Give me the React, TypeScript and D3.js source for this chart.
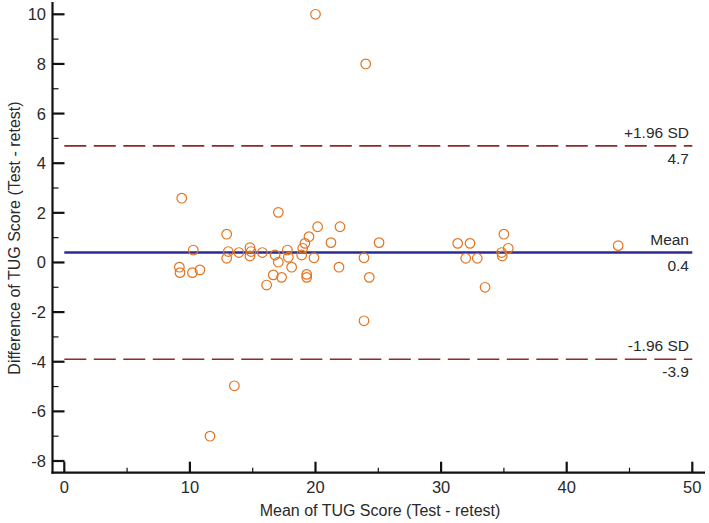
import React from "react";
import * as d3 from "d3";

// Mean of TUG score (x) and difference test - retest (y)
const meanScores: number[] = [
  20.0, 24.0, 9.35, 10.27, 9.16, 9.21, 10.2, 10.8, 12.93, 13.06, 12.93, 13.9,
  14.78, 14.87, 14.78, 15.77, 16.78, 17.04, 17.76, 17.84, 18.1, 16.64, 17.3,
  16.11, 18.9, 18.98, 19.16, 19.48, 20.17, 19.88, 19.3, 19.3, 21.23, 21.95,
  21.87, 23.86, 24.28, 23.86, 25.06, 17.04, 31.32, 32.3, 31.96, 32.88, 33.5,
  35.0, 35.35, 34.82, 34.87, 44.1, 13.54, 11.6,
];
const differences: number[] = [
  10.0, 8.0, 2.59, 0.5, -0.19, -0.41, -0.41, -0.3, 1.14, 0.44, 0.17, 0.4,
  0.6, 0.44, 0.26, 0.4, 0.3, 0.01, 0.5, 0.21, -0.19, -0.5, -0.6,
  -0.91, 0.3, 0.57, 0.77, 1.04, 1.44, 0.19, -0.48, -0.6, 0.8, 1.44,
  -0.19, 0.19, -0.6, -2.35, 0.8, 2.02, 0.77, 0.77, 0.17, 0.17, -1.0,
  1.14, 0.57, 0.4, 0.26, 0.68, -4.97, -7.0,
];

const refValues: number[] = [4.7, 0.4, -3.9];
const refTopLabels: string[] = ["+1.96 SD", "Mean", "-1.96 SD"];
const refBottomLabels: string[] = ["4.7", "0.4", "-3.9"];
const refKinds: string[] = ["sd", "mean", "sd"];

const xTicks: number[] = [0, 10, 20, 30, 40, 50];
const xMinorTicks: number[] = [5, 15, 25, 35, 45];
const yTicks: number[] = [-8, -6, -4, -2, 0, 2, 4, 6, 8, 10];
const yMinorTicks: number[] = [-7, -5, -3, -1, 1, 3, 5, 7, 9];

const xTitle = "Mean of TUG Score (Test - retest)";
const yTitle = "Difference of TUG Score (Test - retest)";

export default function App() {
  const W = 709;
  const H = 523;
  const x = d3.scaleLinear().domain([0, 50]).range([64.3, 692.3]);
  const y = d3.scaleLinear().domain([-8, 10]).range([461, 14.3]);
  const axisX = 52.5;
  const axisY = 472.7;
  const font = "'Liberation Sans', Arial, sans-serif";
  const ptColor = "#e2741f";
  const sdColor = "#8e2a2a";
  const meanColor = "#2b2b95";
  const txt = "#2a2a2a";

  return (
    <svg
      width={W}
      height={H}
      style={{ position: "absolute", left: 0, top: 0, background: "#fff" }}
      fontFamily={font}
    >
      <rect x={0} y={0} width={W} height={H} fill="#fff" />
      {/* reference lines */}
      {refValues.map((v, i) => (
        <g key={"ref" + i}>
          <line
            x1={x(0)}
            x2={x(50)}
            y1={y(v)}
            y2={y(v)}
            stroke={refKinds[i] === "mean" ? meanColor : sdColor}
            strokeWidth={refKinds[i] === "mean" ? 2.6 : 1.6}
            strokeDasharray={refKinds[i] === "mean" ? undefined : "22 7.5"}
          />
          <text x={689} y={y(v) - 8} textAnchor="end" fontSize={15.5} fill={txt}>
            {refTopLabels[i]}
          </text>
          <text x={689} y={y(v) + 18} textAnchor="end" fontSize={15.5} fill={txt}>
            {refBottomLabels[i]}
          </text>
        </g>
      ))}
      {/* points */}
      {meanScores.map((m, i) => (
        <circle
          key={"p" + i}
          cx={x(m)}
          cy={y(differences[i])}
          r={4.8}
          fill="none"
          stroke={ptColor}
          strokeWidth={1.2}
        />
      ))}
      {/* axes */}
      <line x1={axisX} x2={axisX} y1={2} y2={axisY + 1} stroke="#111" strokeWidth={2.2} />
      <line x1={axisX - 1} x2={705} y1={axisY} y2={axisY} stroke="#111" strokeWidth={2.2} />
      {yTicks.map((t) => (
        <g key={"yt" + t}>
          <line x1={axisX} x2={axisX + 12} y1={y(t)} y2={y(t)} stroke="#111" strokeWidth={2.2} />
          <text x={46} y={y(t) + 6} textAnchor="end" fontSize={16.5} fill={txt}>
            {t}
          </text>
        </g>
      ))}
      {yMinorTicks.map((t) => (
        <line key={"ym" + t} x1={axisX} x2={axisX + 6} y1={y(t)} y2={y(t)} stroke="#111" strokeWidth={1.2} />
      ))}
      {xTicks.map((t) => (
        <g key={"xt" + t}>
          <line x1={x(t)} x2={x(t)} y1={axisY} y2={axisY - 11} stroke="#111" strokeWidth={2.2} />
          <text x={x(t)} y={493} textAnchor="middle" fontSize={16.5} fill={txt}>
            {t}
          </text>
        </g>
      ))}
      {xMinorTicks.map((t) => (
        <line key={"xm" + t} x1={x(t)} x2={x(t)} y1={axisY} y2={axisY - 5} stroke="#111" strokeWidth={1.2} />
      ))}
      <text x={380} y={516} textAnchor="middle" fontSize={16} fill={txt}>
        {xTitle}
      </text>
      <text
        transform={`translate(20, 238) rotate(-90)`}
        textAnchor="middle"
        fontSize={16}
        fill={txt}
      >
        {yTitle}
      </text>
    </svg>
  );
}
